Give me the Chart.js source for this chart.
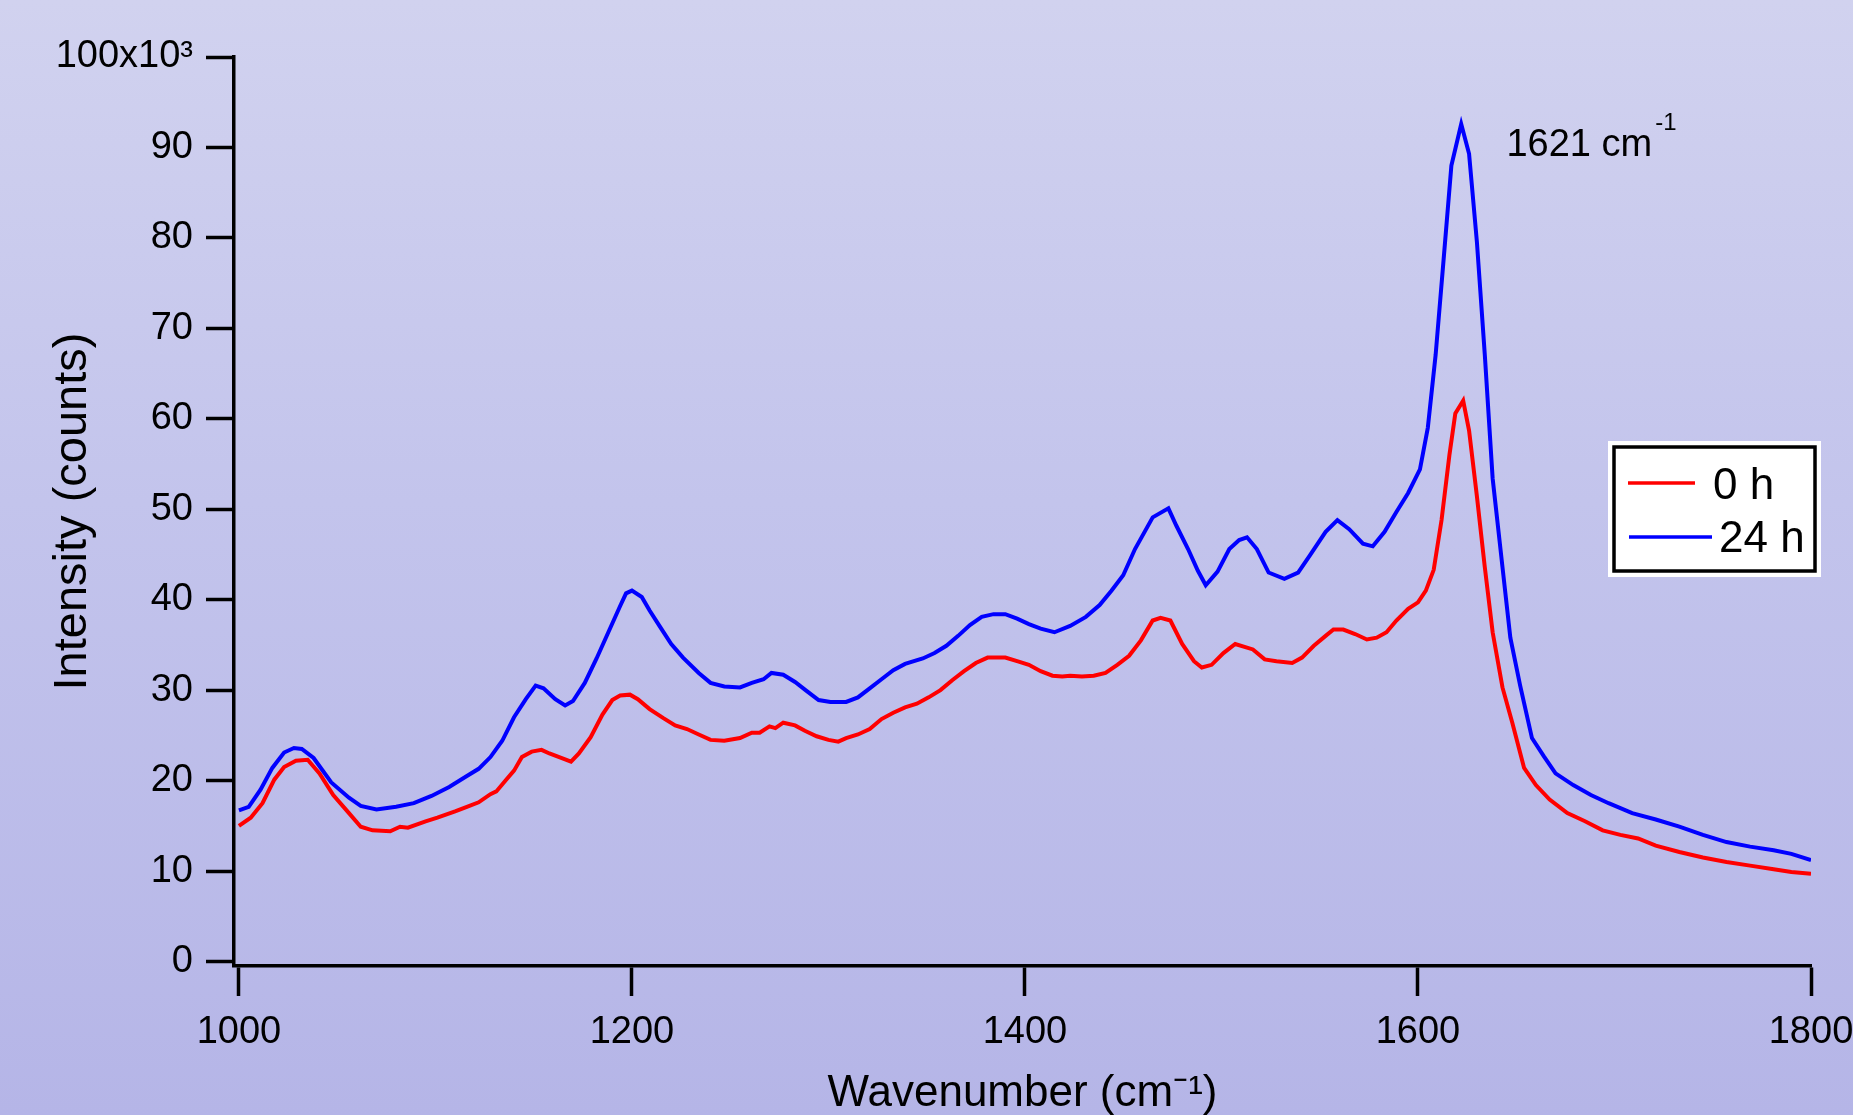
<!DOCTYPE html>
<html>
<head>
<meta charset="utf-8">
<script src="https://cdn.jsdelivr.net/npm/chart.js"></script>
<style>
  html, body { margin: 0; padding: 0; }
  body {
    width: 1853px; height: 1115px; overflow: hidden;
    background: linear-gradient(to bottom, #d1d2ef 0%, #c3c4ec 45%, #b5b5e7 100%);
  }
  canvas { display: block; }
</style>
</head>
<body>
<canvas id="myChart" width="1853" height="1115"></canvas>
<script>
// ---------------- data (intensity in x10^3 counts) ----------------
const wn24 = [1000,1005,1011,1017,1023,1028,1032,1038,1047,1056,1062,1070,1080,1089,1098,1107,1116,1122,1128,1134,
  1140,1146,1151,1155,1161,1166,1170,1176,1182,1188,1194,1197,1200,1205,1209,1214,1220,1226,1234,1240,
  1247,1255,1261,1267,1271,1277,1283,1289,1295,1301,1309,1315,1321,1327,1333,1339,1348,1354,1360,1366,
  1372,1378,1384,1390,1396,1402,1408,1415,1423,1431,1438,1444,1450,1456,1465,1473,1477,1483,1488,1492,
  1498,1504,1509,1513,1518,1524,1532,1539,1545,1553,1559,1565,1572,1577,1583,1589,1595,1601,1605,1609,
  1613,1617,1622,1626,1630,1634,1638,1643,1647,1652,1658,1664,1670,1679,1688,1697,1709,1721,1733,1745,
  1757,1769,1781,1790,1800];
const int24 = [16.7,17.1,19.0,21.4,23.1,23.6,23.5,22.5,19.8,18.1,17.2,16.8,17.1,17.5,18.3,19.3,20.5,21.3,22.6,24.4,
  27.0,29.0,30.5,30.2,29.0,28.3,28.8,30.8,33.5,36.4,39.3,40.7,41.0,40.3,38.8,37.1,35.1,33.6,31.9,30.8,
  30.4,30.3,30.8,31.2,31.9,31.7,30.9,29.9,28.9,28.7,28.7,29.2,30.2,31.2,32.2,32.9,33.5,34.1,34.9,36.0,
  37.2,38.1,38.4,38.4,37.9,37.3,36.8,36.4,37.1,38.1,39.4,41.0,42.7,45.6,49.1,50.1,48.2,45.6,43.2,41.6,
  43.1,45.6,46.6,46.9,45.6,43.0,42.3,43.0,44.9,47.5,48.8,47.8,46.2,45.9,47.5,49.7,51.8,54.4,59.0,67.1,
  77.5,88.0,92.6,89.3,79.5,67.1,53.4,43.6,35.8,30.5,24.7,22.7,20.8,19.5,18.4,17.5,16.4,15.7,14.9,14.0,
  13.2,12.7,12.3,11.9,11.2];

const wn0 = [1000,1006,1012,1018,1023,1029,1035,1041,1048,1056,1062,1068,1077,1082,1086,1095,1101,1110,1116,1122,
  1128,1131,1136,1140,1144,1149,1154,1158,1164,1169,1173,1179,1185,1190,1194,1199,1203,1209,1216,1222,
  1228,1234,1240,1247,1255,1261,1265,1270,1273,1277,1283,1288,1294,1300,1305,1309,1315,1321,1327,1333,
  1339,1345,1351,1357,1363,1369,1375,1381,1390,1396,1402,1408,1414,1419,1423,1429,1435,1441,1447,1453,
  1459,1465,1469,1474,1480,1486,1490,1495,1501,1507,1516,1522,1528,1536,1541,1547,1553,1557,1562,1568,
  1574,1579,1584,1589,1595,1600,1604,1608,1612,1616,1619,1623,1626,1630,1634,1638,1643,1648,1654,1660,
  1667,1676,1685,1694,1703,1712,1721,1733,1745,1757,1769,1781,1790,1800];
const int0 = [15.0,15.9,17.5,20.1,21.5,22.2,22.3,20.8,18.4,16.4,14.9,14.5,14.4,14.9,14.8,15.5,15.9,16.6,17.1,17.6,
  18.5,18.8,20.1,21.1,22.6,23.2,23.4,23.0,22.5,22.1,23.0,24.8,27.3,28.9,29.4,29.5,29.0,27.9,26.9,26.1,
  25.7,25.1,24.5,24.4,24.7,25.3,25.3,26.0,25.8,26.4,26.1,25.5,24.9,24.5,24.3,24.7,25.1,25.7,26.8,27.5,
  28.1,28.5,29.2,30.0,31.1,32.1,33.0,33.6,33.6,33.2,32.8,32.1,31.6,31.5,31.6,31.5,31.6,31.9,32.8,33.8,
  35.5,37.7,38.0,37.7,35.1,33.2,32.5,32.8,34.1,35.1,34.5,33.4,33.2,33.0,33.6,34.9,36.0,36.7,36.7,36.2,
  35.6,35.8,36.4,37.7,39.0,39.7,41.0,43.3,48.8,56.0,60.6,62.0,58.7,51.4,43.6,36.4,30.3,26.4,21.4,19.5,
  17.9,16.4,15.5,14.5,14.0,13.6,12.8,12.1,11.5,11.0,10.6,10.2,9.9,9.7];

const xTicks = [1000, 1200, 1400, 1600, 1800];
const yTicks = [0, 10, 20, 30, 40, 50, 60, 70, 80, 90, 100];
const seriesNames = ['0 h', '24 h'];
const seriesColors = ['#ff0000', '#0000ff'];
const peakLabel = '1621 cm';

function toPoints(xs, ys) {
    let pts = [];
    for (let i = 0; i < xs.length; i++) {
        pts.push({ x: xs[i], y: ys[i] });
    }
    return pts;
}

const FONT = '"Liberation Sans", Arial, sans-serif';

// legend box + peak annotation
const extras = {
    id: 'extras',
    afterDraw(chart) {
        const ctx = chart.ctx;
        const xs = chart.scales.x, ys = chart.scales.y;
        ctx.save();
        // annotation next to 1621 peak
        ctx.fillStyle = '#000';
        ctx.textBaseline = 'alphabetic';
        ctx.textAlign = 'left';
        ctx.font = '38px ' + FONT;
        let ax = xs.getPixelForValue(1645);
        let ay = ys.getPixelForValue(89.0);
        ctx.fillText(peakLabel, ax, ay);
        let w = ctx.measureText(peakLabel).width;
        ctx.font = '24px ' + FONT;
        ctx.fillText('-1', ax + w + 3, ay - 26);

        // legend
        ctx.fillStyle = '#ffffff';
        ctx.fillRect(1608, 441, 213, 136);
        ctx.strokeStyle = '#000';
        ctx.lineWidth = 3.5;
        ctx.strokeRect(1614, 447, 201, 124);
        ctx.lineWidth = 3.5;
        ctx.strokeStyle = seriesColors[0];
        ctx.beginPath(); ctx.moveTo(1628, 483); ctx.lineTo(1695, 483); ctx.stroke();
        ctx.strokeStyle = seriesColors[1];
        ctx.beginPath(); ctx.moveTo(1629, 537); ctx.lineTo(1712, 537); ctx.stroke();
        ctx.fillStyle = '#000';
        ctx.font = '44px ' + FONT;
        ctx.fillText(seriesNames[0], 1713, 499);
        ctx.fillText(seriesNames[1], 1719, 552);
        ctx.restore();
    }
};

const ctx = document.getElementById('myChart');
const chart = new Chart(ctx, {
    type: 'line',
    data: {
        datasets: [{
            label: seriesNames[0],
            data: toPoints(wn0, int0),
            borderColor: seriesColors[0],
            borderWidth: 4,
            pointRadius: 0,
            tension: 0,
            fill: false
        }, {
            label: seriesNames[1],
            data: toPoints(wn24, int24),
            borderColor: seriesColors[1],
            borderWidth: 4,
            pointRadius: 0,
            tension: 0,
            fill: false
        }]
    },
    options: {
        responsive: false,
        animation: false,
        devicePixelRatio: 1,
        layout: { padding: { top: 57, right: 42, left: 0, bottom: 0 } },
        plugins: {
            legend: { display: false },
            tooltip: { enabled: false }
        },
        scales: {
            x: {
                type: 'linear',
                min: 997.5,
                max: 1800,
                afterFit(scale) {
                    scale.height = 149;
                    scale.paddingLeft = 0;
                    scale.paddingRight = 0;
                },
                afterBuildTicks(scale) { scale.ticks = xTicks.map(v => ({ value: v })); },
                border: { display: true, color: '#000', width: 3.5 },
                grid: { drawOnChartArea: false, drawTicks: true, tickLength: 30, tickWidth: 3.5, tickColor: '#000' },
                ticks: {
                    color: '#000',
                    font: { family: FONT, size: 38 },
                    padding: 14,
                    maxRotation: 0,
                    autoSkip: false,
                    callback: (v) => String(v)
                },
                title: {
                    display: true,
                    text: 'Wavenumber (cm\u207B\u00B9)',
                    color: '#000',
                    font: { family: FONT, size: 44 },
                    padding: { top: 0, bottom: -5 }
                }
            },
            y: {
                type: 'linear',
                min: -0.5,
                max: 100,
                afterFit(scale) {
                    scale.width = 234;
                    scale.paddingTop = 0;
                    scale.paddingBottom = 0;
                },
                afterBuildTicks(scale) { scale.ticks = yTicks.map(v => ({ value: v })); },
                border: { display: true, color: '#000', width: 3.5 },
                grid: { drawOnChartArea: false, drawTicks: true, tickLength: 28, tickWidth: 3.5, tickColor: '#000' },
                ticks: {
                    color: '#000',
                    font: { family: FONT, size: 38 },
                    padding: 13,
                    autoSkip: false,
                    callback: (v) => v === 100 ? '100x10\u00B3' : String(v)
                },
                title: {
                    display: true,
                    text: 'Intensity (counts)',
                    color: '#000',
                    font: { family: FONT, size: 47 },
                    padding: { top: 45, bottom: 0 }
                }
            }
        }
    },
    plugins: [extras]
});
</script>
</body>
</html>
